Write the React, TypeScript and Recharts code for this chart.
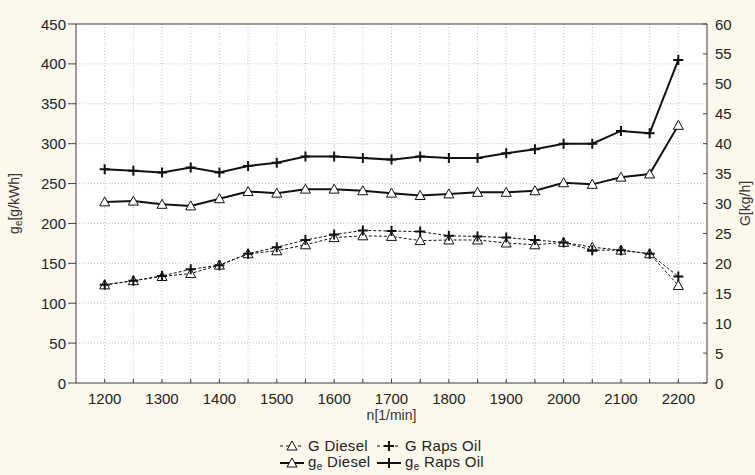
import { LineChart, Line, XAxis, YAxis, CartesianGrid, ReferenceLine, Legend } from 'recharts'

// engine speed, n [1/min]
const rpm = [1200, 1250, 1300, 1350, 1400, 1450, 1500, 1550, 1600, 1650, 1700, 1750, 1800, 1850, 1900, 1950, 2000, 2050, 2100, 2150, 2200]

// specific fuel consumption g_e [g/kWh] (left axis)
const geDiesel = [227, 228, 224, 222, 231, 240, 238, 243, 243, 241, 238, 235, 237, 239, 239, 241, 251, 249, 258, 262, 323]
const geRapsOil = [268, 266, 264, 270, 264, 272, 276, 284, 284, 282, 280, 284, 282, 282, 288, 293, 300, 300, 316, 313, 405]

// hourly fuel consumption G [kg/h] (right axis)
const gDiesel = [16.4, 17.1, 17.8, 18.3, 19.7, 21.6, 22.1, 23.1, 24.3, 24.6, 24.5, 23.8, 23.9, 23.9, 23.4, 23.1, 23.5, 22.7, 22.2, 21.6, 16.3]
const gRapsOil = [16.4, 17.1, 17.9, 19.0, 19.7, 21.6, 22.7, 23.9, 24.8, 25.5, 25.4, 25.3, 24.6, 24.5, 24.3, 23.9, 23.5, 22.2, 22.2, 21.6, 17.8]

const xTicks = [1200, 1250, 1300, 1350, 1400, 1450, 1500, 1550, 1600, 1650, 1700, 1750, 1800, 1850, 1900, 1950, 2000, 2050, 2100, 2150, 2200]
const leftTicks = [0, 50, 100, 150, 200, 250, 300, 350, 400, 450]
const rightTicks = [0, 5, 10, 15, 20, 25, 30, 35, 40, 45, 50, 55, 60]

const data = rpm.map((n, i) => ({
  n,
  gDiesel: gDiesel[i],
  gRapsOil: gRapsOil[i],
  geDiesel: geDiesel[i],
  geRapsOil: geRapsOil[i],
}))

const BG = '#fdf8ec'
const INK = '#222'
const FRAME = '#444'
const FONT = 'Arial, "Liberation Sans", sans-serif'

type Marker = 'triangle' | 'plus'

function markerShape(kind: Marker, cx: number, cy: number, key?: string) {
  if (kind === 'triangle') {
    return (
      <path key={key} d={`M${cx},${cy - 5} L${cx + 5},${cy + 4} L${cx - 5},${cy + 4} Z`} fill="#fff" stroke="#111" strokeWidth={1} />
    )
  }
  return (
    <path key={key} d={`M${cx - 5},${cy} H${cx + 5} M${cx},${cy - 5} V${cy + 5}`} stroke="#111" strokeWidth={2} fill="none" />
  )
}

const dotFor = (kind: Marker) => (p: any) => markerShape(kind, p.cx, p.cy, `${kind}-${p.index}-${p.dataKey}`)

const series = [
  { key: 'gDiesel', axis: 'right', marker: 'triangle' as Marker, dashed: true, label: 'G Diesel', sub: false },
  { key: 'gRapsOil', axis: 'right', marker: 'plus' as Marker, dashed: true, label: 'G Raps Oil', sub: false },
  { key: 'geDiesel', axis: 'left', marker: 'triangle' as Marker, dashed: false, label: 'Diesel', sub: true },
  { key: 'geRapsOil', axis: 'left', marker: 'plus' as Marker, dashed: false, label: 'Raps Oil', sub: true },
]

function XTick({ x, y, payload }: any) {
  const v = payload.value
  return (
    <g>
      <line x1={x} y1={y} x2={x} y2={y - 4} stroke={FRAME} />
      {v % 100 === 0 && (
        <text x={x} y={y + 21} textAnchor="middle" fontSize={15} fill={INK} fontFamily={FONT}>{v}</text>
      )}
    </g>
  )
}

function LeftTick({ x, y, payload }: any) {
  return (
    <g>
      <line x1={x - 8} y1={y} x2={x} y2={y} stroke={FRAME} />
      <text x={x - 10} y={y + 5.5} textAnchor="end" fontSize={15} fill={INK} fontFamily={FONT}>{payload.value}</text>
    </g>
  )
}

function RightTick({ x, y, payload }: any) {
  return (
    <g>
      <line x1={x - 4} y1={y} x2={x} y2={y} stroke={FRAME} />
      <text x={x + 8} y={y + 5.5} textAnchor="start" fontSize={15} fill={INK} fontFamily={FONT}>{payload.value}</text>
    </g>
  )
}

function LeftTitle({ viewBox }: any) {
  const cx = viewBox.x + 14
  const cy = viewBox.y + viewBox.height / 2
  return (
    <text x={cx} y={cy + 5} transform={`rotate(-90 ${cx} ${cy})`} textAnchor="middle" fontSize={14} fill="#333" fontFamily={FONT}>
      <tspan>g</tspan>
      <tspan dy={3} fontSize={10}>e</tspan>
      <tspan dy={-3}>[g/kWh]</tspan>
    </text>
  )
}

function RightTitle({ viewBox }: any) {
  const cx = viewBox.x + viewBox.width - 10
  const cy = viewBox.y + viewBox.height / 2
  return (
    <text x={cx} y={cy + 5} transform={`rotate(-90 ${cx} ${cy})`} textAnchor="middle" fontSize={14} fill="#333" fontFamily={FONT}>
      G[kg/h]
    </text>
  )
}

function XTitle({ viewBox }: any) {
  return (
    <text x={viewBox.x + viewBox.width / 2} y={viewBox.y + 37} textAnchor="middle" fontSize={14} fill="#333" fontFamily={FONT}>
      n[1/min]
    </text>
  )
}

function LegendIcon({ kind, dashed }: { kind: Marker; dashed: boolean }) {
  return (
    <svg width={26} height={14} style={{ display: 'block' }}>
      <line x1={1} y1={7} x2={25} y2={7} stroke="#111" strokeWidth={dashed ? 1 : 2} strokeDasharray={dashed ? '3 3' : undefined} />
      {markerShape(kind, 13, 7)}
    </svg>
  )
}

function LegendBox() {
  return (
    <div style={{ display: 'grid', gridTemplateColumns: '97px auto', rowGap: 0, fontFamily: FONT, fontSize: 15, color: INK, letterSpacing: 0.3 }}>
      {series.map((s) => (
        <div key={s.key} style={{ display: 'flex', alignItems: 'center', height: 17, whiteSpace: 'nowrap' }}>
          <LegendIcon kind={s.marker} dashed={s.dashed} />
          <span style={{ marginLeft: 3 }}>
            {s.sub ? (
              <>g<sub style={{ fontSize: 10, verticalAlign: -3 }}>e</sub> {s.label}</>
            ) : (
              s.label
            )}
          </span>
        </div>
      ))}
    </div>
  )
}

export default function App() {
  return (
    <div style={{ position: 'absolute', left: 0, top: 0, width: 755, height: 475, background: BG }}>
      <LineChart width={755} height={475} data={data} margin={{ top: 24, right: 0, bottom: 52, left: 0 }}>
        <CartesianGrid yAxisId="left" fill="#fff" stroke="#c4c4c4" strokeDasharray="1 2" />
        <XAxis
          dataKey="n"
          type="number"
          domain={[1150, 2250]}
          ticks={xTicks}
          interval={0}
          height={40}
          tickSize={0}
          tickMargin={0}
          tickLine={false}
          tick={<XTick />}
          axisLine={{ stroke: FRAME }}
          label={(p: any) => <XTitle {...p} />}
        />
        <YAxis
          yAxisId="left"
          orientation="left"
          width={76}
          domain={[0, 450]}
          ticks={leftTicks}
          interval={0}
          tickSize={0}
          tickMargin={0}
          tickLine={false}
          tick={<LeftTick />}
          axisLine={{ stroke: FRAME }}
          label={(p: any) => <LeftTitle {...p} />}
        />
        <YAxis
          yAxisId="right"
          orientation="right"
          width={48}
          domain={[0, 60]}
          ticks={rightTicks}
          interval={0}
          tickSize={0}
          tickMargin={0}
          tickLine={false}
          tick={<RightTick />}
          axisLine={{ stroke: FRAME }}
          label={(p: any) => <RightTitle {...p} />}
        />
        <ReferenceLine yAxisId="left" y={450} stroke={FRAME} />
        {series.map((s) => (
          <Line
            key={s.key}
            yAxisId={s.axis}
            dataKey={s.key}
            type="linear"
            stroke="#111"
            strokeWidth={s.dashed ? 1 : 2}
            strokeDasharray={s.dashed ? '3 2' : undefined}
            dot={dotFor(s.marker)}
            activeDot={false}
            isAnimationActive={false}
          />
        ))}
        <Legend
          layout="vertical"
          align="center"
          verticalAlign="middle"
          wrapperStyle={{ top: 437, left: 279, width: 'auto' }}
          content={() => <LegendBox />}
        />
      </LineChart>
    </div>
  )
}
